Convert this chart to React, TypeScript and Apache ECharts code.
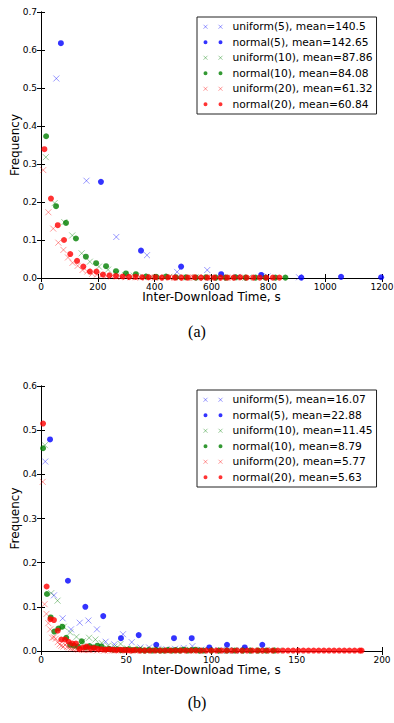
import React, { useEffect, useRef } from "react";
import * as echarts from "echarts";

// ---------- Data (a) ----------
const xTicksA = [0, 200, 400, 600, 800, 1000, 1200];
const yTicksA = [0, 0.1, 0.2, 0.3, 0.4, 0.5, 0.6, 0.7];
const uniform5A: [number, number][] = [
  [54, 0.525], [160, 0.256], [265, 0.108], [373, 0.06], [479, 0.016], [585, 0.021],
  [691, 0.003], [797, 0.004], [908, 0.002],
];
const normal5A: [number, number][] = [
  [70, 0.618], [211, 0.253], [352, 0.072], [493, 0.03], [634, 0.01], [775, 0.008],
  [916, 0.001], [1056, 0.003], [1197, 0.002],
];
const uniform10A: [number, number][] = [
  [17, 0.318], [48, 0.197], [82, 0.147], [110, 0.112], [143, 0.065], [172, 0.043],
  [204, 0.03], [236, 0.022], [265, 0.012], [296, 0.008], [327, 0.006], [358, 0.004],
  [389, 0.003], [420, 0.002], [451, 0.003], [482, 0.002], [513, 0.001], [544, 0.002],
  [575, 0.001], [606, 0.001], [637, 0.001], [668, 0.001], [699, 0.001], [730, 0.001],
];
const normal10A: [number, number][] = [
  [18, 0.373], [53, 0.189], [88, 0.145], [123, 0.104], [158, 0.056], [194, 0.039],
  [229, 0.031], [264, 0.018], [299, 0.012], [334, 0.01], [370, 0.004], [405, 0.003],
  [440, 0.004], [475, 0.002], [510, 0.002], [545, 0.001], [580, 0.002], [615, 0.001],
  [650, 0.001], [685, 0.002], [720, 0.001], [755, 0.001], [790, 0.001], [825, 0.001],
  [860, 0.001],
];
const uniform20A: [number, number][] = [
  [8, 0.284], [26, 0.173], [43, 0.13], [61, 0.093], [79, 0.074], [95, 0.054],
  [111, 0.04], [129, 0.032], [146, 0.021], [163, 0.017], [180, 0.011], [197, 0.009],
  [214, 0.007], [231, 0.005], [248, 0.004], [265, 0.004], [282, 0.003], [299, 0.002],
  [316, 0.002], [333, 0.002], [350, 0.001], [367, 0.001], [384, 0.002], [401, 0.001],
  [418, 0.001], [435, 0.001], [452, 0.001], [469, 0.001], [486, 0.001], [503, 0.001],
  [520, 0.001], [537, 0.001], [554, 0.001], [571, 0.001], [588, 0.001], [605, 0.001],
  [622, 0.001], [639, 0.001], [656, 0.001], [673, 0.001], [690, 0.001], [707, 0.001],
];
const normal20A: [number, number][] = [
  [12, 0.339], [35, 0.209], [59, 0.139], [81, 0.1], [103, 0.063], [127, 0.045],
  [149, 0.03], [172, 0.017], [195, 0.017], [218, 0.009], [241, 0.007], [264, 0.005],
  [287, 0.004], [310, 0.003], [333, 0.003], [356, 0.002], [379, 0.002], [402, 0.002],
  [425, 0.001], [448, 0.002], [471, 0.001], [494, 0.001], [517, 0.001], [540, 0.002],
  [563, 0.001], [586, 0.001], [609, 0.001], [632, 0.001], [655, 0.001], [678, 0.001],
  [701, 0.002], [724, 0.001], [747, 0.001], [770, 0.001], [793, 0.001], [816, 0.001],
  [839, 0.001],
];
const namesA = [
  "uniform(5), mean=140.5",
  "normal(5), mean=142.65",
  "uniform(10), mean=87.86",
  "normal(10), mean=84.08",
  "uniform(20), mean=61.32",
  "normal(20), mean=60.84",
];

// ---------- Data (b) ----------
const xTicksB = [0, 50, 100, 150, 200];
const yTicksB = [0, 0.1, 0.2, 0.3, 0.4, 0.5, 0.6];
const uniform5B: [number, number][] = [
  [2.5, 0.429], [7.6, 0.126], [12.7, 0.074], [17.6, 0.049], [22.7, 0.064], [27.8, 0.069],
  [32.8, 0.049], [37.9, 0.021], [43, 0.015], [48.1, 0.038], [53.2, 0.02], [58.3, 0.008],
  [63.4, 0.008], [68.5, 0.005], [73.6, 0.004], [78.6, 0.005], [83.7, 0.007], [88.8, 0.011],
  [93.9, 0.003], [99, 0.002], [104, 0.002], [109, 0.001], [114, 0.001], [119, 0.002],
];
const normal5B: [number, number][] = [
  [5.3, 0.479], [15.8, 0.159], [26, 0.1], [36.5, 0.079], [46.9, 0.029], [57.3, 0.036],
  [67.6, 0.014], [78, 0.029], [88.4, 0.029], [98.7, 0.008], [109.1, 0.014], [119.5, 0.008],
  [129.8, 0.014],
];
const uniform10B: [number, number][] = [
  [2.3, 0.466], [6, 0.131], [9.7, 0.114], [13.4, 0.055], [17.1, 0.042], [20.8, 0.032],
  [24.5, 0.022], [28.2, 0.03], [31.9, 0.026], [35.6, 0.018], [39.3, 0.012], [43, 0.01],
  [46.7, 0.016], [50.4, 0.006], [54.1, 0.004], [57.8, 0.005], [61.5, 0.003], [65.2, 0.004],
  [68.9, 0.002], [72.6, 0.003], [76.3, 0.002], [80, 0.002], [83.7, 0.003], [87.4, 0.002],
  [91.1, 0.001], [94.8, 0.001], [98.5, 0.002], [102.2, 0.001], [105.9, 0.001], [109.6, 0.001],
  [113.3, 0.002], [117, 0.001], [120.7, 0.001], [124.4, 0.001], [128.1, 0.001], [131.8, 0.001],
  [135.5, 0.002], [139.2, 0.001],
];
const normal10B: [number, number][] = [
  [1.2, 0.459], [3.5, 0.129], [5.7, 0.076], [7.8, 0.044], [10.2, 0.051], [12.5, 0.055],
  [14.8, 0.03], [17.1, 0.014], [19.4, 0.012], [21.7, 0.01], [23.9, 0.022], [26.2, 0.008],
  [28.5, 0.011], [30.8, 0.008], [33.1, 0.012], [35.4, 0.01], [37.7, 0.004], [40, 0.005],
  [42.3, 0.003], [44.6, 0.004], [46.9, 0.002], [49.2, 0.003], [51.5, 0.004], [53.8, 0.002],
  [56.1, 0.003], [58.4, 0.002], [60.7, 0.001], [63, 0.002], [65.3, 0.001], [67.6, 0.002],
  [69.9, 0.001], [72.2, 0.001], [74.5, 0.002], [76.8, 0.001], [79.1, 0.002], [81.4, 0.001],
  [83.7, 0.003], [86, 0.001], [88.3, 0.002], [90.6, 0.003], [92.9, 0.001], [95.2, 0.001],
  [99.8, 0.001], [104.4, 0.001], [109, 0.001], [113.6, 0.001], [118.2, 0.001], [122.8, 0.001],
  [127.4, 0.001], [132, 0.001], [136.6, 0.001],
];
const uniform20B: [number, number][] = [
  [1, 0.383], [2.1, 0.106], [3.2, 0.084], [4.3, 0.063], [5.4, 0.049], [6.5, 0.03],
  [7.6, 0.031], [8.7, 0.028], [9.8, 0.02], [10.9, 0.015], [12, 0.012], [13.1, 0.01],
  [14.2, 0.014], [15.3, 0.009], [16.4, 0.008], [17.5, 0.006], [18.6, 0.005], [19.7, 0.006],
  [20.8, 0.004], [21.9, 0.003], [23, 0.004], [24.1, 0.003], [25.2, 0.002], [26.3, 0.003],
  [27.4, 0.002], [28.5, 0.002], [30.7, 0.002], [32.9, 0.001], [35.1, 0.002], [37.3, 0.001],
  [39.5, 0.001], [41.7, 0.001], [43.9, 0.001], [46.1, 0.001], [48.3, 0.001], [50.5, 0.001],
  [52.7, 0.001], [54.9, 0.001], [57.1, 0.001], [59.3, 0.001],
];
const normal20B: [number, number][] = [
  [1.2, 0.515], [3.3, 0.146], [5.5, 0.072], [7.6, 0.07], [9.8, 0.046], [11.9, 0.026],
  [14.1, 0.026], [16.2, 0.021], [18.4, 0.017], [20.5, 0.017], [22.7, 0.005], [24.8, 0.008],
  [26.9, 0.01], [29.1, 0.006], [31.2, 0.007], [33.4, 0.005], [35.5, 0.004], [37.7, 0.003],
  [39.8, 0.004], [42, 0.003], [44.1, 0.002], [46.3, 0.003], [48.4, 0.002], [50.6, 0.002],
  [52.7, 0.001], [54.9, 0.002], [57.9, 0.001], [60.9, 0.001], [63.9, 0.001], [66.9, 0.001],
  [69.9, 0.001], [72.9, 0.001], [75.9, 0.001], [78.9, 0.001], [81.9, 0.001], [84.9, 0.001],
  [87.9, 0.001], [90.9, 0.001], [93.9, 0.001], [96.9, 0.001], [99.9, 0.001], [102.9, 0.001],
  [105.9, 0.001], [108.9, 0.001], [111.9, 0.001], [114.9, 0.001], [117.9, 0.001], [120.9, 0.001],
  [123.9, 0.001], [126.9, 0.001], [129.9, 0.001], [132.9, 0.001], [135.9, 0.001], [138.9, 0.001],
  [141.9, 0.001], [144.9, 0.001], [147.9, 0.001], [150.9, 0.001], [153.9, 0.001], [156.9, 0.001],
  [159.9, 0.001], [162.9, 0.001], [165.9, 0.001], [168.9, 0.001], [171.9, 0.001], [174.9, 0.001],
  [177.9, 0.001], [180.9, 0.001], [183.9, 0.001], [186.9, 0.001], [188, 0.001],
];
const namesB = [
  "uniform(5), mean=16.07",
  "normal(5), mean=22.88",
  "uniform(10), mean=11.45",
  "normal(10), mean=8.79",
  "uniform(20), mean=5.77",
  "normal(20), mean=5.63",
];

const baseColors = ["#0000ff", "#0000ff", "#008000", "#008000", "#ff0000", "#ff0000"];
const lightColors = [
  "rgba(0,0,255,0.5)", "#0000ff", "rgba(0,128,0,0.5)", "#008000", "rgba(255,0,0,0.5)", "#ff0000",
];
const isCross = [true, false, true, false, true, false];

const FONT = "DejaVu Sans";
const CROSS = "path://M0,0L6,6M6,0L0,6";
const DOT_PAIR = "path://M0,2A2,2 0 1,1 4,2A2,2 0 1,1 0,2ZM15,2A2,2 0 1,1 19,2A2,2 0 1,1 15,2Z";
const CROSS_PAIR = "path://M0,0L4,4M4,0L0,4M15,0L19,4M19,0L15,4";

function makeSeries(names: string[], datas: [number, number][][], axisIdx: number) {
  return datas.map((d, i) => ({
    type: "scatter",
    name: names[i],
    xAxisIndex: axisIdx,
    yAxisIndex: axisIdx,
    data: d,
    symbol: isCross[i] ? CROSS : "circle",
    symbolSize: 6,
    itemStyle: isCross[i]
      ? { color: "rgba(0,0,0,0)", borderColor: lightColors[i], borderWidth: 1 }
      : { color: baseColors[i], borderWidth: 0 },
    z: 2 + i,
  }));
}

function makeLegend(names: string[], top: number) {
  return {
    orient: "vertical",
    left: 197,
    top,
    padding: [2, 4, 2, 6],
    itemWidth: 19,
    itemHeight: 4,
    itemGap: 0,
    borderColor: "#222",
    borderWidth: 1,
    backgroundColor: "#fff",
    selectedMode: false,
    textStyle: {
      fontFamily: FONT,
      fontSize: 10.7,
      color: "#000",
      lineHeight: 15.5,
      padding: [0, 0, 0, 5],
    },
    data: names.map((n, i) => ({
      name: n,
      icon: isCross[i] ? CROSS_PAIR : DOT_PAIR,
      itemStyle: isCross[i]
        ? { color: "rgba(0,0,0,0)", borderColor: lightColors[i], borderWidth: 1 }
        : { color: baseColors[i], borderWidth: 0 },
    })),
  };
}

const tickLabel = { fontFamily: FONT, fontSize: 9, color: "#000", margin: 4 };
const axisLine = { show: true, lineStyle: { color: "#000", width: 1 } };
const tick = { show: true, inside: true, length: 4, lineStyle: { color: "#000", width: 1 } };
const nameStyle = { fontFamily: FONT, fontSize: 12, color: "#000" };
const intLabel = { ...tickLabel, formatter: (v: number) => String(v) };
const decLabel = { ...tickLabel, formatter: (v: number) => v.toFixed(1) };

export default function App() {
  const ref = useRef<HTMLDivElement>(null);
  useEffect(() => {
    document.body.style.margin = "0";
    if (!ref.current) return;
    const chart = echarts.init(ref.current, null, { renderer: "svg" });
    const xMaxA = xTicksA[xTicksA.length - 1];
    const yMaxA = yTicksA[yTicksA.length - 1];
    const xMaxB = xTicksB[xTicksB.length - 1];
    const yMaxB = yTicksB[yTicksB.length - 1];
    const option: any = {
      animation: false,
      backgroundColor: "#fff",
      grid: [
        { left: 41, top: 12, width: 341, height: 266, containLabel: false, outerBoundsMode: "none" },
        { left: 41, top: 386, width: 341, height: 265, containLabel: false, outerBoundsMode: "none" },
      ],
      xAxis: [
        {
          gridIndex: 0, type: "value", position: "bottom", min: 0, max: xMaxA,
          interval: xTicksA[1] - xTicksA[0], axisLine, axisTick: tick, splitLine: { show: false },
          axisLabel: intLabel, name: "Inter-Download Time, s", nameLocation: "middle",
          nameGap: 13, nameMoveOverlap: false, nameTextStyle: nameStyle,
        },
        {
          gridIndex: 0, type: "value", position: "top", min: 0, max: xMaxA,
          interval: xTicksA[1] - xTicksA[0], axisLine, axisTick: tick, splitLine: { show: false },
          axisLabel: { show: false },
        },
        {
          gridIndex: 1, type: "value", position: "bottom", min: 0, max: xMaxB,
          interval: xTicksB[1] - xTicksB[0], axisLine, axisTick: tick, splitLine: { show: false },
          axisLabel: intLabel, name: "Inter-Download Time, s", nameLocation: "middle",
          nameGap: 13, nameMoveOverlap: false, nameTextStyle: nameStyle,
        },
        {
          gridIndex: 1, type: "value", position: "top", min: 0, max: xMaxB,
          interval: xTicksB[1] - xTicksB[0], axisLine, axisTick: tick, splitLine: { show: false },
          axisLabel: { show: false },
        },
      ],
      yAxis: [
        {
          gridIndex: 0, type: "value", position: "left", min: 0, max: yMaxA, interval: 0.1,
          axisLine, axisTick: tick, splitLine: { show: false }, axisLabel: decLabel,
          name: "Frequency", nameLocation: "middle", nameGap: 20, nameMoveOverlap: false,
          nameTextStyle: nameStyle,
        },
        {
          gridIndex: 0, type: "value", position: "right", min: 0, max: yMaxA, interval: 0.1,
          axisLine, axisTick: tick, splitLine: { show: false }, axisLabel: { show: false },
        },
        {
          gridIndex: 1, type: "value", position: "left", min: 0, max: yMaxB, interval: 0.1,
          axisLine, axisTick: tick, splitLine: { show: false }, axisLabel: decLabel,
          name: "Frequency", nameLocation: "middle", nameGap: 20, nameMoveOverlap: false,
          nameTextStyle: nameStyle,
        },
        {
          gridIndex: 1, type: "value", position: "right", min: 0, max: yMaxB, interval: 0.1,
          axisLine, axisTick: tick, splitLine: { show: false }, axisLabel: { show: false },
        },
      ],
      legend: [makeLegend(namesA, 17), makeLegend(namesB, 390)],
      series: [
        ...makeSeries(namesA, [uniform5A, normal5A, uniform10A, normal10A, uniform20A, normal20A], 0),
        ...makeSeries(namesB, [uniform5B, normal5B, uniform10B, normal10B, uniform20B, normal20B], 2),
      ],
      graphic: [
        {
          type: "text", left: "center", top: 323,
          style: { text: "(a)", fontFamily: "Liberation Serif", fontSize: 16, fill: "#000" },
        },
        {
          type: "text", left: "center", top: 694,
          style: { text: "(b)", fontFamily: "Liberation Serif", fontSize: 16, fill: "#000" },
        },
      ],
    };
    chart.setOption(option);
    return () => chart.dispose();
  }, []);
  return <div ref={ref} style={{ width: 394, height: 723 }} />;
}
